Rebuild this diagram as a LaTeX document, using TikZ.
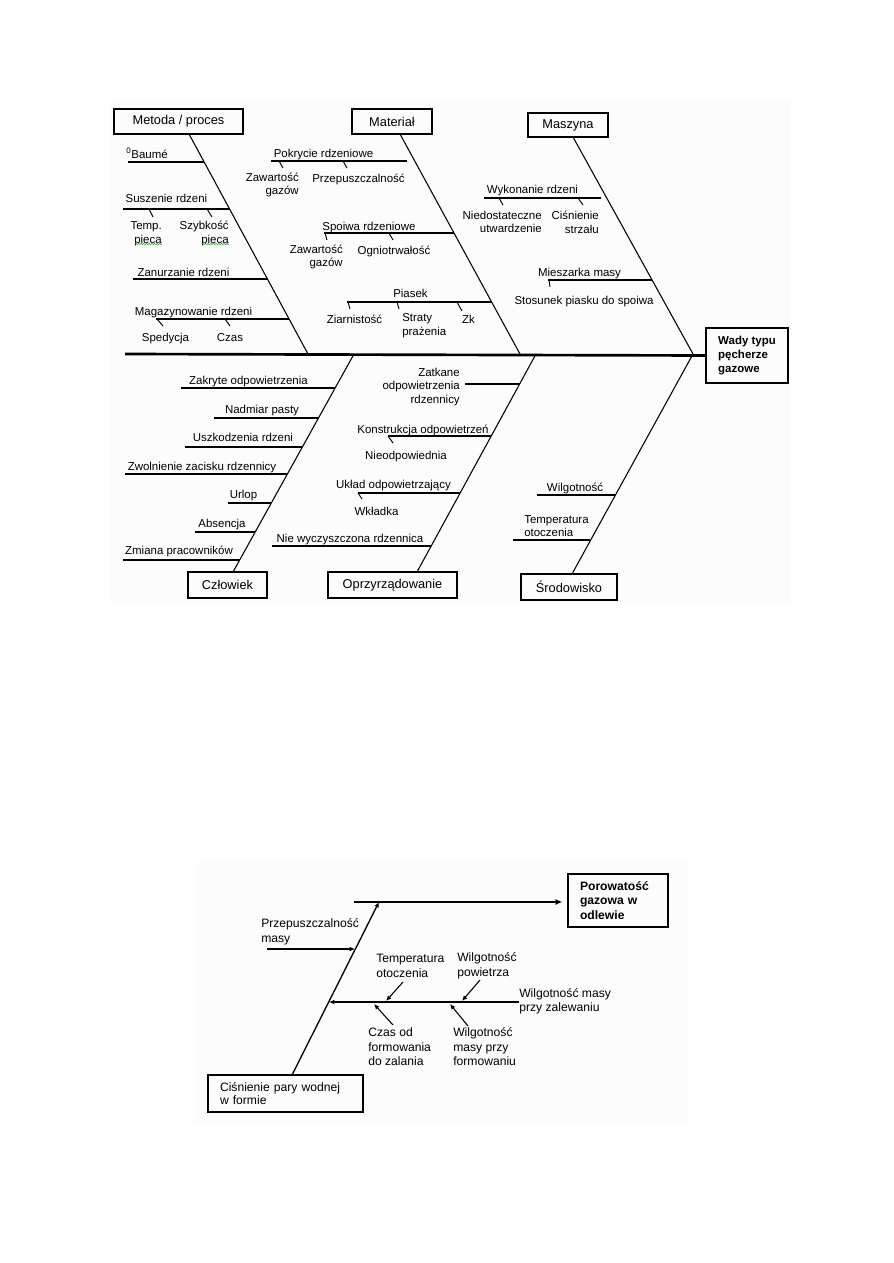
\documentclass[tikz,border=0pt]{standalone}
\usepackage{fontspec}
\setmainfont{Liberation Sans}
\usetikzlibrary{arrows.meta,decorations.pathmorphing}
\newcommand\fcat{\fontsize{9.6}{11.5}\selectfont}
\newcommand\fsub{\fontsize{8.6}{10.3}\selectfont}
\newcommand\flow{\fontsize{9.1}{10.9}\selectfont}
\newcommand\sbone[4]{\coordinate (#1-l) at (#2,#4); \coordinate (#1-r) at (#3,#4); \draw[sub] (#1-l) -- (#1-r);}
\newcommand\tck[5]{\coordinate (#1-a) at (#2,#3); \coordinate (#1-b) at (#4,#5); \draw[tk] (#1-a) -- (#1-b);}
\definecolor{bgc}{gray}{0.99}
\definecolor{spell}{RGB}{40,160,40}
\begin{document}
\begin{tikzpicture}[x=0.75pt,y=-0.75pt,
  bone/.style={line width=0.8pt},
  spine/.style={line width=2pt},
  sub/.style={line width=1pt},
  tk/.style={line width=0.7pt},
  cat/.style={draw,line width=0.9pt,font=\fcat,inner sep=0pt},
  lab/.style={font=\fsub,inner sep=0pt,text height=6.2pt,text depth=0pt},
  mlab/.style={font=\fsub,inner sep=0pt},
  llab/.style={font=\flow,inner sep=0pt,align=left,anchor=west},
  arr/.style={-{Latex[length=4pt,width=3.5pt]},line width=0.8pt},
  squig/.style={spell,line width=0.4pt,decorate,decoration={snake,amplitude=0.5pt,segment length=2pt}}
]
\useasboundingbox (0,0) rectangle (893,1263);
\fill[bgc] (110,100) rectangle (790,603);
\fill[bgc] (195,862) rectangle (688,1123);

% ---------- upper diagram: boxes ----------
\node[cat,minimum width=96.75pt,minimum height=18.75pt] (metoda) at (178.5,121.5) {Metoda / proces};
\node[cat,minimum width=60pt,minimum height=18.75pt] (material) at (392,121.5) {Materiał};
\node[cat,minimum width=60pt,minimum height=18pt] (maszyna) at (568,125) {Maszyna};
\node[cat,minimum width=59.25pt,minimum height=19.5pt] (czlowiek) at (227.5,585) {Człowiek};
\node[cat,minimum width=96.75pt,minimum height=19.5pt] (oprz) at (392.5,585) {Oprzyrządowanie};
\node[cat,minimum width=72pt,minimum height=19.5pt] (srod) at (569,587) {Środowisko};
\node[draw,line width=1pt,font=\fontsize{8.6}{10.5}\selectfont\bfseries,align=left,inner sep=0pt,
      minimum width=61.5pt,minimum height=41.25pt] (effect) at (747,355.5) {Wady typu\\pęcherze\\gazowe};

% spine
\coordinate (sp0) at (125,354);
\draw[spine] (sp0) -- (effect.west);

% main bones
\coordinate (m0) at (189,134); \coordinate (m1) at (308,354);
\coordinate (a0) at (400,134); \coordinate (a1) at (520,354);
\coordinate (z0) at (573,137); \coordinate (z1) at (693,354);
\coordinate (c0) at (233,572); \coordinate (c1) at (354,354);
\coordinate (o0) at (417,572); \coordinate (o1) at (536,354);
\coordinate (s0) at (572,574); \coordinate (s1) at (693,354);
\draw[bone] (m0) -- (m1);
\draw[bone] (a0) -- (a1);
\draw[bone] (z0) -- (z1);
\draw[bone] (c0) -- (c1);
\draw[bone] (o0) -- (o1);
\draw[bone] (s0) -- (s1);

% sub-bones: Metoda
\sbone{baume}{128}{204.1}{162}
\sbone{susz}{123}{229.6}{209}
\sbone{zanu}{133}{267.4}{279}
\sbone{maga}{156}{289}{319}
\tck{t1}{149}{209}{153}{217}
\tck{t2}{207}{209}{212}{217}
\tck{t3}{157}{319}{163}{326}
\tck{t4}{225}{319}{230}{326}
% Material
\sbone{pokr}{271}{407}{161}
\sbone{spoi}{324}{454}{233}
\sbone{pias}{347}{491.6}{302}
\tck{t5}{279}{161}{283}{168}
\tck{t6}{343}{161}{347}{168}
\tck{t7}{325}{233}{327}{240}
\tck{t8}{389}{233}{393}{240}
\tck{t9}{348}{302}{350}{309}
\tck{t10}{397}{302}{399}{309}
\tck{t11}{457}{302}{462}{311}
% Maszyna
\sbone{wyk}{484}{601}{198}
\sbone{mies}{548}{652}{280}
\tck{t12}{499}{198}{503}{205}
\tck{t13}{578}{198}{583}{205}
\tck{t14}{549}{280}{550}{287}
% Czlowiek
\sbone{zakr}{181}{335.1}{388}
\sbone{nadm}{214}{318.5}{418}
\sbone{uszk}{185}{302.4}{447}
\sbone{zwol}{125}{287.4}{474}
\sbone{urlop}{228}{271.3}{503}
\sbone{abs}{195}{255.2}{532}
\sbone{zmia}{123}{239.7}{560}
% Oprzyrzadowanie
\sbone{zatk}{465}{519.6}{384}
\sbone{konst}{388}{491.2}{436}
\sbone{uklad}{358}{460.1}{493}
\sbone{niew}{272}{431.2}{546}
\tck{t15}{388}{436}{393}{443}
\tck{t16}{358}{493}{362}{499}
% Srodowisko
\sbone{wilg}{537}{614.7}{495}
\sbone{tempo}{513}{589.8}{540}

% labels: Metoda
\node[lab] (baumeL) at (147,154) {\textsuperscript{0}Baumé};
\node[lab] (suszL) at (166.5,198) {Suszenie rdzeni};
\node[mlab,align=right,anchor=east] (tempL) at (162,233.5) {Temp.\\pieca};
\node[mlab,align=right,anchor=east] (szybL) at (229,233.5) {Szybkość\\pieca};
\node[lab] (zanuL) at (183.5,272) {Zanurzanie rdzeni};
\node[lab] (magaL) at (193.5,311) {Magazynowanie rdzeni};
\node[lab] (spedL) at (165.5,337) {Spedycja};
\node[lab] (czasL) at (230,337) {Czas};
\coordinate (q1a) at (135,244); \coordinate (q1b) at (162,244);
\coordinate (q2a) at (202,244); \coordinate (q2b) at (229,244);
\draw[squig] (q1a) -- (q1b);
\draw[squig] (q2a) -- (q2b);
% Material
\node[lab] (pokrL) at (323.5,153) {Pokrycie rdzeniowe};
\node[mlab,align=right,anchor=east] (zaw1L) at (299,185) {Zawartość\\gazów};
\node[lab] (przepL) at (358.5,178) {Przepuszczalność};
\node[lab] (spoiL) at (369,226) {Spoiwa rdzeniowe};
\node[mlab,align=right,anchor=east] (zaw2L) at (343,257) {Zawartość\\gazów};
\node[lab] (ognL) at (394,250) {Ogniotrwałość};
\node[lab] (piasL) at (410.5,293) {Piasek};
\node[lab] (ziarL) at (354.5,319) {Ziarnistość};
\node[mlab,align=left,anchor=west] (stratL) at (402,325.5) {Straty\\prażenia};
\node[lab] (zkL) at (468.5,319) {Zk};
% Maszyna
\node[lab] (wykL) at (532.5,189) {Wykonanie rdzeni};
\node[mlab,align=right,anchor=east] (niedL) at (542,222) {Niedostateczne\\utwardzenie};
\node[mlab,align=right,anchor=east] (cisnSL) at (599,222) {Ciśnienie\\strzału};
\node[lab] (miesL) at (579.5,272) {Mieszarka masy};
\node[lab] (stosL) at (584,300) {Stosunek piasku do spoiwa};
% Czlowiek
\node[lab] (zakrL) at (248.5,380) {Zakryte odpowietrzenia};
\node[lab] (nadmL) at (262,409) {Nadmiar pasty};
\node[lab] (uszkL) at (243,437) {Uszkodzenia rdzeni};
\node[lab] (zwolL) at (202,466) {Zwolnienie zacisku rdzennicy};
\node[lab] (urlopL) at (243.5,494) {Urlop};
\node[lab] (absL) at (222,523) {Absencja};
\node[lab] (zmiaL) at (179,550) {Zmiana pracowników};
% Oprzyrzadowanie
\node[mlab,align=right,anchor=east] (zatkL) at (460,387) {Zatkane\\odpowietrzenia\\rdzennicy};
\node[lab] (konstL) at (423,429) {Konstrukcja odpowietrzeń};
\node[lab] (nieodL) at (406,455) {Nieodpowiednia};
\node[lab] (ukladL) at (393.5,484) {Układ odpowietrzający};
\node[lab] (wklL) at (376.5,511) {Wkładka};
\node[lab] (niewL) at (350,538) {Nie wyczyszczona rdzennica};
% Srodowisko
\node[lab] (wilgL) at (575,487) {Wilgotność};
\node[mlab,align=left,anchor=west] (tempoL) at (524,526) {Temperatura\\otoczenia};

% ---------- lower diagram ----------
\node[draw,line width=1pt,font=\flow\bfseries,align=left,text width=57pt,inner xsep=9pt,inner ysep=0pt,
      minimum height=39.75pt] (poro) at (618,900.5) {Porowatość\\gazowa w\\odlewie};
\node[draw,line width=1pt,font=\fontsize{9.1}{9.5}\selectfont,align=left,text width=98.25pt,inner xsep=9pt,inner ysep=0pt,
      minimum height=27.75pt] (cisn) at (285.5,1093.5) {Ciśnienie pary wodnej\\w formie};

\coordinate (L0) at (354,902);
\draw[line width=2pt,-{Latex[length=5pt,width=4.5pt]},shorten >=3.75pt] (L0) -- (poro.west |- L0);
\coordinate (d0) at (292,1075); \coordinate (d1) at (379,902);
\draw[arr,line width=1pt] (d0) -- (d1);
\coordinate (pa) at (267,949); \coordinate (pb) at (355,949);
\draw[arr] (pa) -- (pb);
\coordinate (ha) at (519,1002); \coordinate (hb) at (329,1002);
\draw[arr,line width=1.2pt] (ha) -- (hb);
\coordinate (ta) at (403,982); \coordinate (tb) at (386,1001);
\draw[arr] (ta) -- (tb);
\coordinate (ca) at (393,1025); \coordinate (cb) at (374,1004);
\draw[arr] (ca) -- (cb);
\coordinate (wa) at (480,980); \coordinate (wb) at (462,1001);
\draw[arr] (wa) -- (wb);
\coordinate (fa) at (468,1026); \coordinate (fb) at (450,1004);
\draw[arr] (fa) -- (fb);

\node[llab] (przepM) at (261,932) {Przepuszczalność\\masy};
\node[llab] (tempM) at (376,966) {Temperatura\\otoczenia};
\node[llab] (czasM) at (368,1047) {Czas od\\formowania\\do zalania};
\node[llab] (wpowM) at (457,966) {Wilgotność\\powietrza};
\node[llab] (wforM) at (453,1047) {Wilgotność\\masy przy\\formowaniu};
\node[llab] (wzalM) at (519,1001.5) {Wilgotność masy\\przy zalewaniu};
\end{tikzpicture}
\end{document}
